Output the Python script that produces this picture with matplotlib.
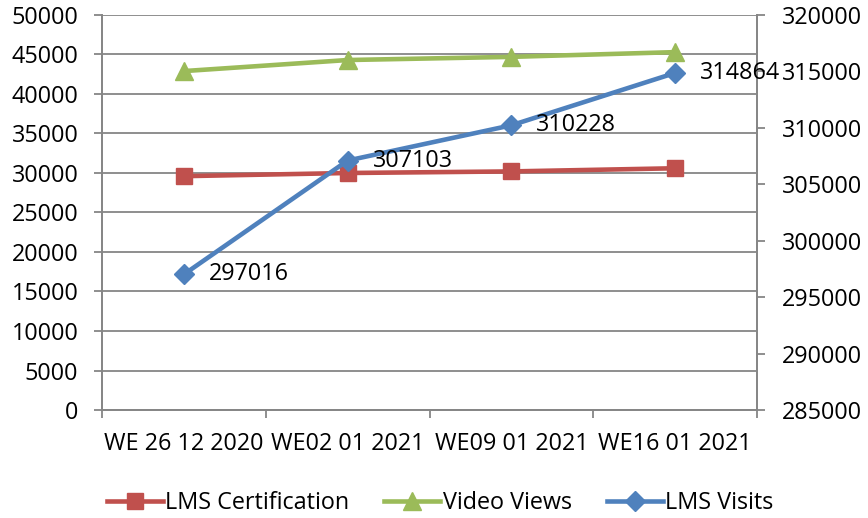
import matplotlib

matplotlib.use("Agg")
import matplotlib.pyplot as plt  # noqa: E402
import numpy as np  # noqa: E402

weeks = ["WE 26 12 2020", "WE02 01 2021", "WE09 01 2021", "WE16 01 2021"]
lms_certification = [29600, 30000, 30200, 30600]
video_views = [42900, 44300, 44700, 45300]
lms_visits = [297016, 307103, 310228, 314864]

plt.rcParams["font.family"] = ["Open Sans", "DejaVu Sans"]
FS = 16.8
GRID = "#868686"

fig = plt.figure(figsize=(8.68, 5.18), dpi=100)
ax = fig.add_axes([102 / 868, 1 - 410 / 518, 655 / 868, 395 / 518])
ax2 = ax.twinx()

x = np.arange(len(weeks))
ax.plot(x, lms_certification, color="#C0504D", lw=3.3, marker="s", ms=12,
        label="LMS Certification", zorder=3)
ax.plot(x, video_views, color="#9BBB59", lw=3.3, marker="^", ms=13,
        label="Video Views", zorder=3)
ax2.plot(x, lms_visits, color="#4F81BD", lw=3.3, marker="D", ms=10,
         label="LMS Visits", zorder=3)

for xi, v in zip(x, lms_visits):
    ax2.annotate(f"{v}", (xi, v), xytext=(18, 0), textcoords="offset points",
                 ha="left", va="center", fontsize=FS)

ax.set_xlim(-0.5, len(weeks) - 0.5)
ax.set_ylim(0, 50000)
ax.set_yticks(np.arange(0, 50001, 5000))
ax2.set_ylim(285000, 320000)
ax2.set_yticks(np.arange(285000, 320001, 5000))

ax.set_xticks(x)
ax.set_xticklabels(weeks, fontsize=FS)
ax.set_xticks(np.arange(-0.5, len(weeks)), minor=True)
ax.tick_params(axis="x", which="major", length=0, pad=16)
ax.tick_params(axis="x", which="minor", length=6, width=1.3, color=GRID, direction="out")
ax.tick_params(axis="y", labelsize=FS, length=6, width=1.3, color=GRID, pad=11)
ax2.tick_params(axis="y", labelsize=FS, length=6, width=1.3, color=GRID, pad=12)

ax.grid(axis="y", color=GRID, lw=1.3)
ax.set_axisbelow(True)
for a in (ax, ax2):
    a.spines["top"].set_visible(False)
    for s in ("left", "right", "bottom"):
        a.spines[s].set_color(GRID)
        a.spines[s].set_linewidth(1.3)

h1, l1 = ax.get_legend_handles_labels()
h2, l2 = ax2.get_legend_handles_labels()
fig.legend(h1 + h2, l1 + l2, loc="lower center", bbox_to_anchor=(0.507, -0.035),
           ncol=3, frameon=False, fontsize=FS, handlelength=2.4,
           columnspacing=1.5, handletextpad=0.1)

fig.savefig("out.png", dpi=100)
